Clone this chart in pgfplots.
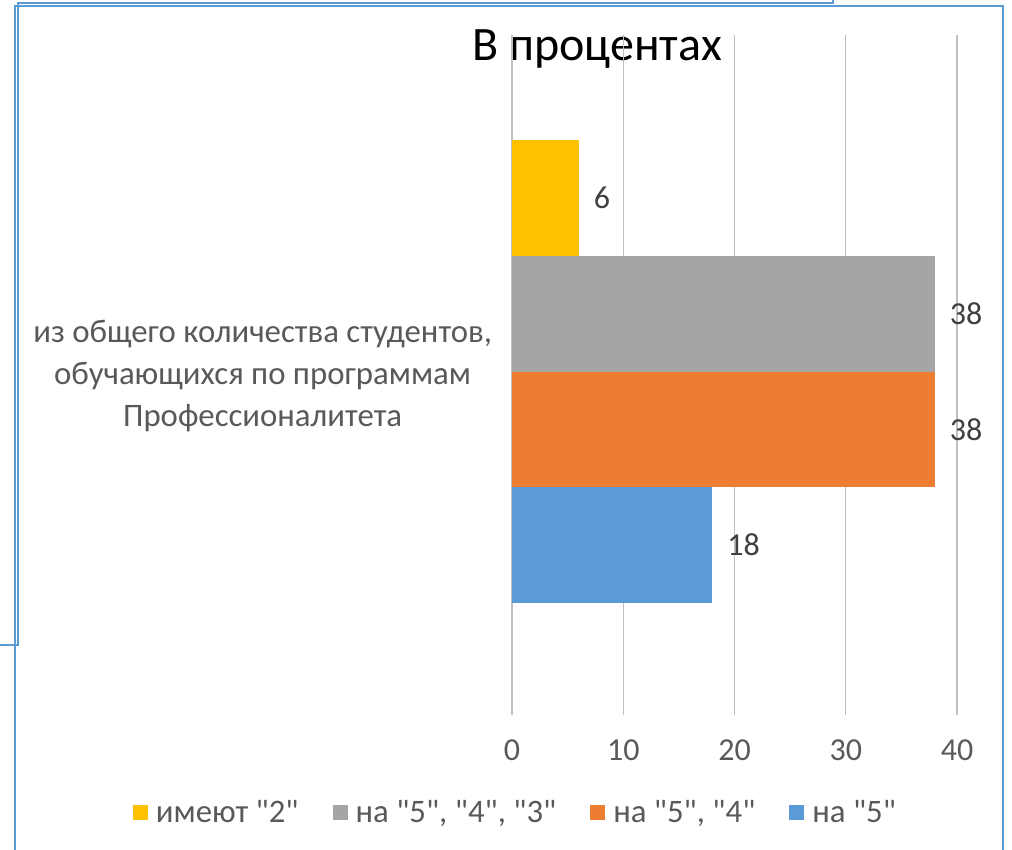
\documentclass[border=0pt]{standalone}
\usepackage{fontspec}
\setmainfont{Carlito}[Ligatures=TeXOff]
\usepackage{pgfplots}
\pgfplotsset{compat=1.18}
\definecolor{cY}{HTML}{FFC000}
\definecolor{cG}{HTML}{A5A5A5}
\definecolor{cO}{HTML}{ED7D31}
\definecolor{cB}{HTML}{5B9BD5}
\definecolor{frame}{HTML}{5B9BD5}
\definecolor{grid}{HTML}{D9D9D9}
\definecolor{txt}{HTML}{595959}
\definecolor{lbl}{HTML}{404040}
\begin{document}
\begin{tikzpicture}
\path[use as bounding box] (0,0) rectangle (506pt,-425pt);
\begin{scope}[x=0.5pt,y=-0.5pt]
\draw[frame,line width=1pt] (15,850) -- (15,6) -- (1003,6) -- (1003,850);
\draw[frame,line width=0.8pt] (0,645) -- (18,645) -- (18,3) -- (833,3) -- (833,0);
\node[font=\fontsize{24}{29}\selectfont, text=black] at (597,49) {В процентах};
\end{scope}
\begin{axis}[
  at={(256pt,-357.5pt)}, anchor=south west,
  scale only axis, width=222.5pt, height=340pt,
  xmin=0, xmax=40, ymin=-1.468, ymax=4.408,
  xbar, bar width=1, bar shift=0pt,
  xtick={0,10,20,30,40},
  ytick={1.5},
  yticklabel={из общего количества студентов,\\обучающихся по программам\\Профессионалитета},
  yticklabel style={align=center, text=txt, font=\fontsize{16.4}{21}\selectfont, xshift=-6.5pt, yshift=-2pt},
  xticklabel style={text=txt, font=\fontsize{16}{19}\selectfont, yshift=-9pt},
  /pgf/number format/assume math mode=true,
  major tick length=0pt,
  tick style={draw=none},
  ytick style={draw=none},
  ytick pos=left,
  ymajorgrids=false,
  axis line style={draw=none},
  xmajorgrids, grid style={grid, line width=0.6pt},
  nodes near coords,
  every node near coord/.append style={anchor=west, text=lbl, font=\fontsize{16}{19}\selectfont, xshift=4pt},
  legend style={at={(0.01,-0.144)}, anchor=center, draw=none, fill=none,
    font=\fontsize{16.4}{19}\selectfont, text=txt,
    /tikz/every odd column/.append style={column sep=2pt},
    /tikz/every even column/.append style={column sep=15pt}},
  legend columns=4,
  legend image code/.code={\fill[#1] (0pt,-3.75pt) rectangle (7.5pt,3.75pt);},
]
\addplot[fill=cY, draw=none] coordinates {(6,3)};
\addlegendentry{имеют "2"}
\addplot[fill=cG, draw=none] coordinates {(38,2)};
\addlegendentry{на "5", "4", "3"}
\addplot[fill=cO, draw=none] coordinates {(38,1)};
\addlegendentry{на "5", "4"}
\addplot[fill=cB, draw=none] coordinates {(18,0)};
\addlegendentry{на "5"}
\end{axis}
\end{tikzpicture}
\end{document}
